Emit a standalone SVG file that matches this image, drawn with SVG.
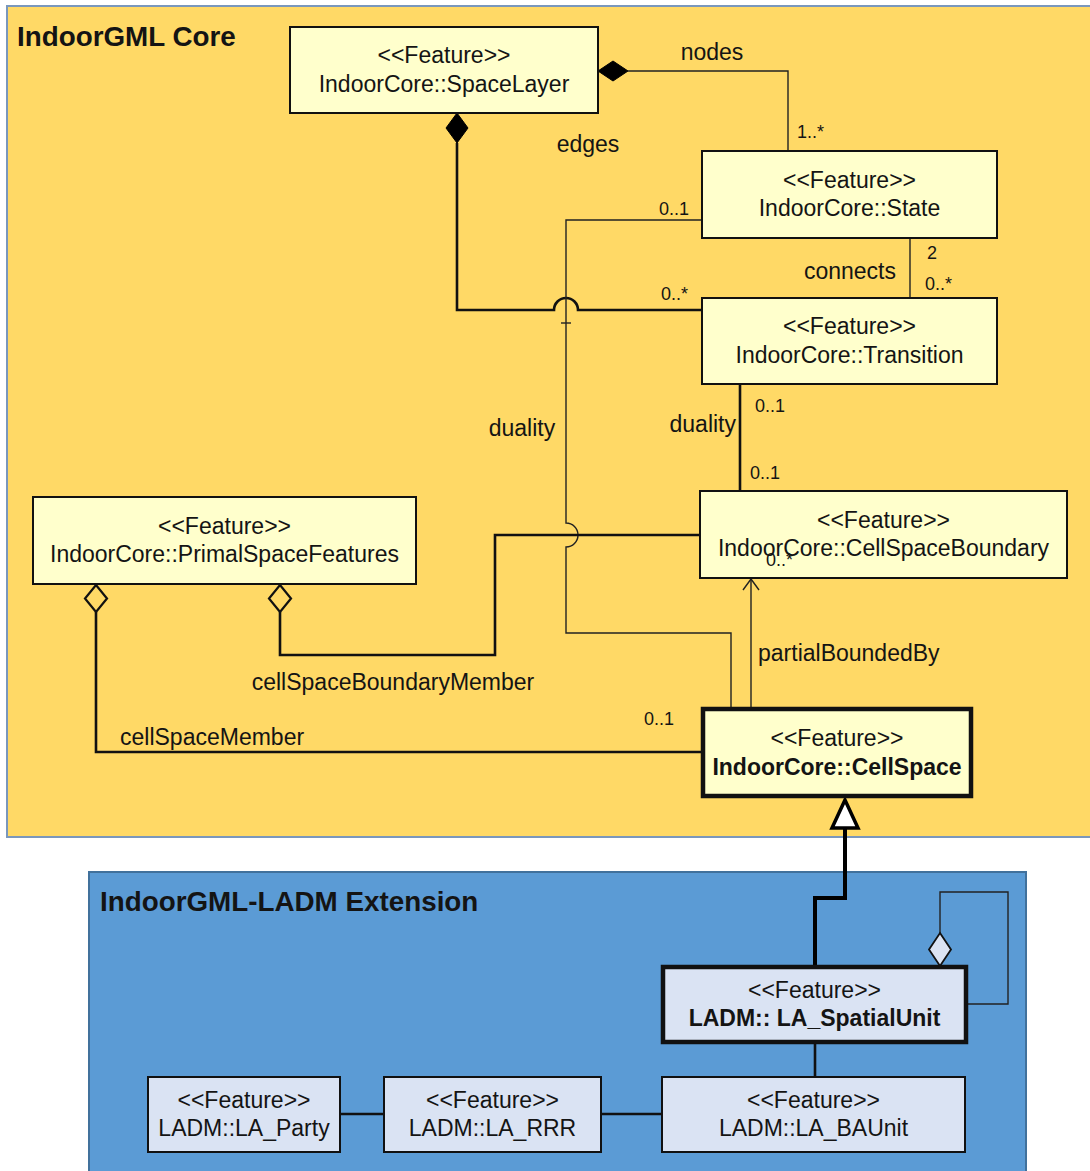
<svg xmlns="http://www.w3.org/2000/svg" width="1090" height="1171" viewBox="0 0 1090 1171">
<style>
text{font-family:"Liberation Sans",Arial,sans-serif;fill:#141414}
.t{font-size:23px;text-anchor:middle}
.b{font-weight:bold}
.lbl{font-size:23px}
.m{font-size:18px}
.title{font-size:27.8px;font-weight:bold}
.ny{fill:#FFFFCC;stroke:#111;stroke-width:2}
.nb{fill:#DAE3F3;stroke:#111;stroke-width:2}
.thick{stroke-width:4.5}
.thin{fill:none;stroke:#222;stroke-width:1.4}
.med{fill:none;stroke:#111;stroke-width:2.6}
</style>
<g id="panel-core">
<rect x="7" y="6" width="1090" height="831" fill="#FFD966" stroke="#7A97BC" stroke-width="2"/>
<text x="17" y="46" class="title">IndoorGML Core</text>
</g>
<g id="panel-ext">
<rect x="89" y="872" width="937" height="310" fill="#5B9BD5" stroke="#41719C" stroke-width="2"/>
<text x="100" y="911" class="title">IndoorGML-LADM Extension</text>
</g>
<g id="connectors">
<!-- nodes -->
<path class="thin" d="M628,71 H788 V151"/>
<path d="M598,71 L613,61 L628,71 L613,81 Z" fill="#000" stroke="#000" stroke-width="1"/>
<!-- edges -->
<path class="med" d="M457,143 V310 H554 A12,12 0 0,1 578,310 H702"/>
<path d="M457,113 L468,128 L457,143 L446,128 Z" fill="#000" stroke="#000" stroke-width="1"/>
<!-- connects -->
<path class="thin" d="M910,238 V298"/>
<!-- duality State-CellSpace -->
<path class="thin" d="M702,220 H566 V523 A12,12 0 0,1 566,547 V633 H731 V709"/>
<path class="thin" d="M561,323 H571"/>
<!-- duality Transition-CellSpaceBoundary -->
<path class="med" d="M740,384 V491"/>
<!-- cellSpaceBoundaryMember -->
<path class="med" d="M280,612 V655 H495 V535 H700"/>
<path d="M280,585 L291,598.5 L280,612 L269,598.5 Z" fill="#FFD966" stroke="#111" stroke-width="2.2"/>
<!-- cellSpaceMember -->
<path class="med" d="M96,612 V752 H702"/>
<path d="M96,585 L107,598.5 L96,612 L85,598.5 Z" fill="#FFD966" stroke="#111" stroke-width="2.2"/>
<!-- partialBoundedBy -->
<path class="thin" d="M751,709 V579"/>
<path class="thin" d="M743,590 L751,579 L759,590"/>
<!-- generalization -->
<path d="M845,828 V898 H815 V966" fill="none" stroke="#000" stroke-width="4"/>
<path d="M845,800 L858,828 L832,828 Z" fill="#fff" stroke="#000" stroke-width="3.5"/>
<!-- self aggregation -->
<path class="thin" d="M940,933 V892 H1008 V1004 H968"/>
<path d="M940,933 L951,949.5 L940,966 L929,949.5 Z" fill="#DAE3F3" stroke="#111" stroke-width="1.8"/>
<!-- bottom row -->
<path class="med" d="M815,1043 V1077"/>
<path class="med" d="M340,1114 H384"/>
<path class="med" d="M601,1114 H662"/>
<!-- labels -->
<text x="712" y="60" class="lbl" text-anchor="middle">nodes</text>
<text x="797" y="138" class="m">1..*</text>
<text x="588" y="152" class="lbl" text-anchor="middle">edges</text>
<text x="659" y="215" class="m">0..1</text>
<text x="661" y="300" class="m">0..*</text>
<text x="927" y="259" class="m">2</text>
<text x="925" y="290" class="m">0..*</text>
<text x="896" y="279" class="lbl" text-anchor="end">connects</text>
<text x="522" y="436" class="lbl" text-anchor="middle">duality</text>
<text x="736" y="432" class="lbl" text-anchor="end">duality</text>
<text x="755" y="412" class="m">0..1</text>
<text x="750" y="479" class="m">0..1</text>
<text x="393" y="690" class="lbl" text-anchor="middle">cellSpaceBoundaryMember</text>
<text x="120" y="745" class="lbl">cellSpaceMember</text>
<text x="758" y="661" class="lbl">partialBoundedBy</text>
<text x="644" y="725" class="m">0..1</text>
</g>
<g id="SpaceLayer">
<rect x="290" y="27" width="308" height="86" class="ny"/>
<text x="444" y="63" class="t">&lt;&lt;Feature&gt;&gt;</text>
<text x="444" y="92" class="t">IndoorCore::SpaceLayer</text>
</g>
<g id="State">
<rect x="702" y="151" width="295" height="87" class="ny"/>
<text x="849.5" y="188" class="t">&lt;&lt;Feature&gt;&gt;</text>
<text x="849.5" y="216" class="t">IndoorCore::State</text>
</g>
<g id="Transition">
<rect x="702" y="298" width="295" height="86" class="ny"/>
<text x="849.5" y="334" class="t">&lt;&lt;Feature&gt;&gt;</text>
<text x="849.5" y="363" class="t">IndoorCore::Transition</text>
</g>
<g id="CellSpaceBoundary">
<rect x="700" y="491" width="367" height="87" class="ny"/>
<text x="883.5" y="528" class="t">&lt;&lt;Feature&gt;&gt;</text>
<text x="883.5" y="556" class="t">IndoorCore::CellSpaceBoundary</text>
<text x="766" y="566" class="m">0..*</text>
</g>
<g id="PrimalSpaceFeatures">
<rect x="33" y="497" width="383" height="87" class="ny"/>
<text x="224.5" y="534" class="t">&lt;&lt;Feature&gt;&gt;</text>
<text x="224.5" y="562" class="t">IndoorCore::PrimalSpaceFeatures</text>
</g>
<g id="CellSpace">
<rect x="703" y="709" width="268" height="87" class="ny thick"/>
<text x="837" y="746" class="t">&lt;&lt;Feature&gt;&gt;</text>
<text x="837" y="775" class="t b">IndoorCore::CellSpace</text>
</g>
<g id="LA_SpatialUnit">
<rect x="663" y="967" width="303" height="75" class="nb thick"/>
<text x="814.5" y="998" class="t">&lt;&lt;Feature&gt;&gt;</text>
<text x="814.5" y="1026" class="t b">LADM:: LA_SpatialUnit</text>
</g>
<g id="LA_Party">
<rect x="148" y="1077" width="192" height="75" class="nb"/>
<text x="244" y="1108" class="t">&lt;&lt;Feature&gt;&gt;</text>
<text x="244" y="1136" class="t">LADM::LA_Party</text>
</g>
<g id="LA_RRR">
<rect x="384" y="1077" width="217" height="75" class="nb"/>
<text x="492.5" y="1108" class="t">&lt;&lt;Feature&gt;&gt;</text>
<text x="492.5" y="1136" class="t">LADM::LA_RRR</text>
</g>
<g id="LA_BAUnit">
<rect x="662" y="1077" width="303" height="75" class="nb"/>
<text x="813.5" y="1108" class="t">&lt;&lt;Feature&gt;&gt;</text>
<text x="813.5" y="1136" class="t">LADM::LA_BAUnit</text>
</g>
</svg>
